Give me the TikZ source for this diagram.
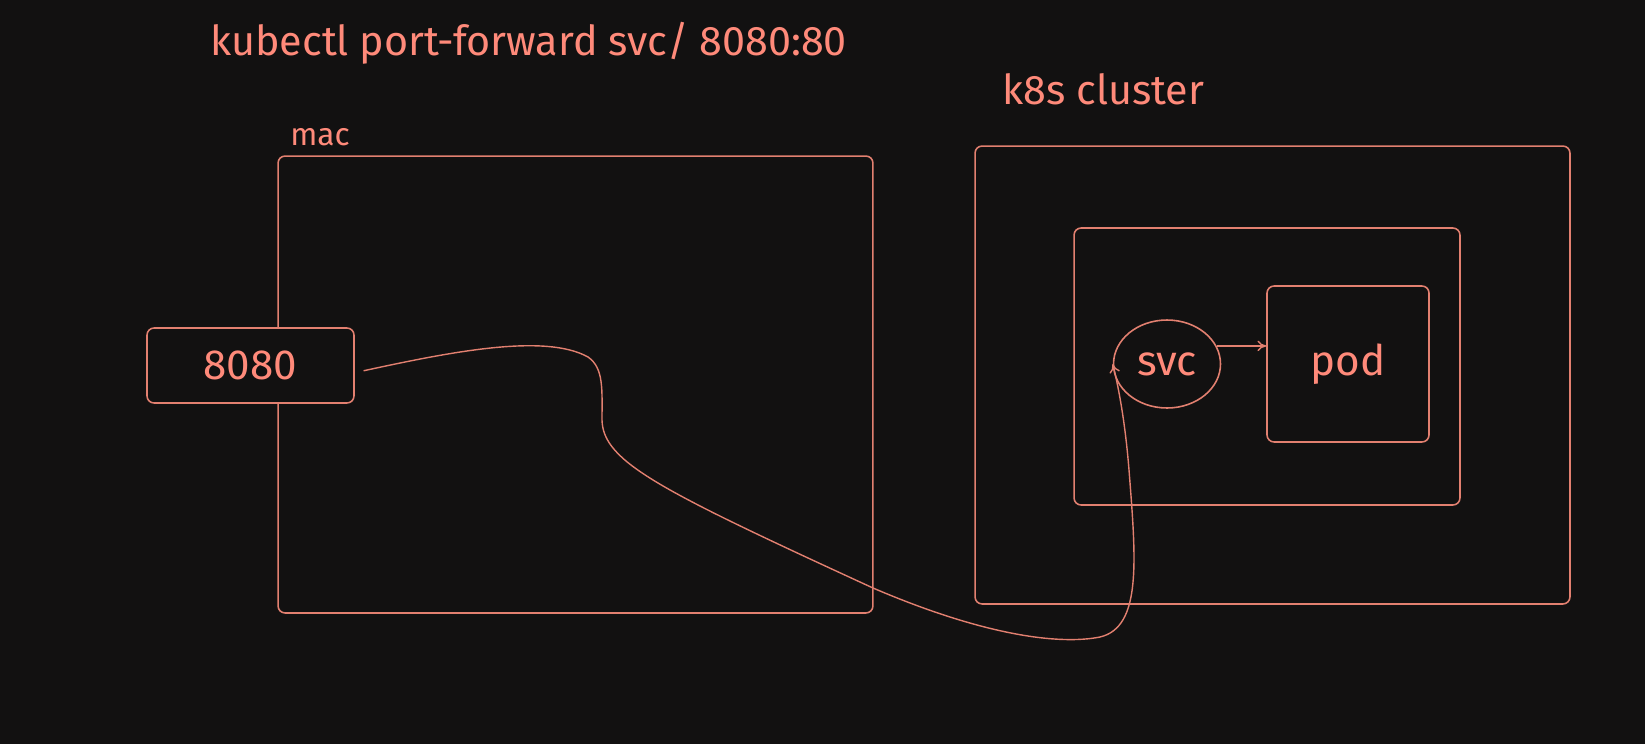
\documentclass[tikz,border=0pt]{standalone}
\usepackage{fontspec}
\setmainfont{Fira Sans}
\usetikzlibrary{shapes.geometric,arrows.meta}
\definecolor{bgdark}{RGB}{18,17,17}
\definecolor{salmon}{RGB}{226,128,112}
\definecolor{salmontext}{RGB}{255,138,122}
\begin{document}
\begin{tikzpicture}[x=0.02cm,y=-0.02cm,
  box/.style={draw=salmon,line width=0.9pt,rounded corners=4pt,inner sep=0pt,fill=bgdark},
  lbl/.style={text=salmontext,inner sep=0pt,font=\fontsize{23.5}{26}\selectfont},
  link/.style={draw=salmon,line width=0.8pt,-{To[length=5pt,width=6pt]}}]
  \useasboundingbox[fill=bgdark] (0,0) rectangle (1645,744);
  \node[lbl,anchor=base west] (cmd) at (210,55) {kubectl port-forward svc/ 8080:80};
  \node[lbl,anchor=base west] (clusterlbl) at (1002,104) {k8s cluster};
  \node[lbl,anchor=base west,font=\fontsize{18}{20}\selectfont] (maclbl) at (290,145) {mac};
  \node[box,minimum width=11.9cm,minimum height=9.14cm] (mac) at (575.5,384.5) {};
  \node[box,minimum width=4.14cm,minimum height=1.5cm,text=salmontext,font=\fontsize{24}{28}\selectfont] (port) at (250.5,365.5) {8080};
  \node[box,minimum width=11.9cm,minimum height=9.16cm] (cluster) at (1272.5,375) {};
  \node[box,minimum width=7.72cm,minimum height=5.54cm] (ns) at (1267,366.5) {};
  \node[box,minimum width=3.24cm,minimum height=3.12cm,text=salmontext,font=\fontsize{24}{28}\selectfont] (pod) at (1348,364) {pod};
  \node[box,ellipse,rounded corners=0pt,minimum width=2.14cm,minimum height=1.76cm,text=salmontext,font=\fontsize{24}{28}\selectfont] (svc) at (1167,364) {svc};
  % svc -> pod
  \draw[link] (svc.20) -- (svc.20 -| pod.west);
  % tunnel from local port into the cluster
  \draw[link] ([xshift=5pt,yshift=-3pt]port.east) .. controls (450,352) and (545,333) .. (588,357)
    .. controls (604,368) and (602,390) .. (602,420)
    .. controls (603,462) and (660,490) .. (873,588)
    .. controls (985,636) and (1060,645) .. (1100,637)
    .. controls (1142,627) and (1136,560) .. (1129,470)
    .. controls (1125,420) and (1118,385) .. (svc.west);
\end{tikzpicture}
\end{document}
